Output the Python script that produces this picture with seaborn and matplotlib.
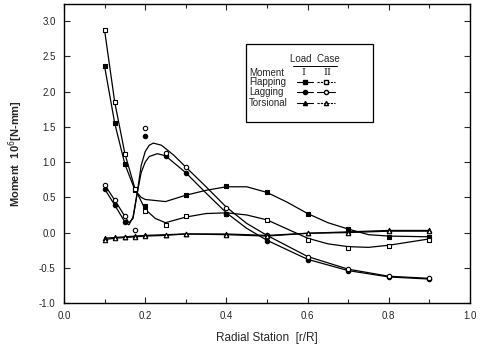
import matplotlib
matplotlib.use("Agg")
import matplotlib.pyplot as plt
import seaborn as sns
import pandas as pd
import numpy as np
from matplotlib.patches import Rectangle
from matplotlib.lines import Line2D

# ---- data ----
# Flapping moment, load case I (filled squares) and II (open squares)
flap1_r = [0.1, 0.125, 0.15, 0.175, 0.2, 0.3, 0.4, 0.5, 0.6, 0.7, 0.8, 0.9]
flap1_v = [2.36, 1.55, 0.97, 0.60, 0.38, 0.54, 0.66, 0.57, 0.27, 0.05, -0.06, -0.07]
flap2_r = [0.1, 0.125, 0.15, 0.175, 0.2, 0.25, 0.3, 0.4, 0.5, 0.6, 0.7, 0.8, 0.9]
flap2_v = [2.87, 1.85, 1.12, 0.62, 0.31, 0.11, 0.23, 0.27, 0.18, -0.10, -0.22, -0.19, -0.10]
# fitted curves
flap1_cr = [0.1, 0.125, 0.15, 0.175, 0.19, 0.2, 0.25, 0.3, 0.35, 0.4, 0.45, 0.5, 0.55, 0.6, 0.65, 0.7, 0.75, 0.8, 0.9]
flap1_cv = [2.36, 1.55, 0.97, 0.60, 0.50, 0.47, 0.44, 0.53, 0.60, 0.65, 0.65, 0.57, 0.43, 0.27, 0.14, 0.05, -0.03, -0.05, -0.06]
flap2_cr = [0.1, 0.125, 0.15, 0.175, 0.2, 0.225, 0.25, 0.3, 0.35, 0.4, 0.45, 0.5, 0.55, 0.6, 0.65, 0.7, 0.75, 0.8, 0.9]
flap2_cv = [2.87, 1.85, 1.12, 0.62, 0.33, 0.20, 0.14, 0.22, 0.27, 0.28, 0.25, 0.18, 0.05, -0.08, -0.16, -0.20, -0.21, -0.18, -0.09]

# Lagging moment, load case I (filled circles) and II (open circles)
lag1_r = [0.1, 0.125, 0.15, 0.2, 0.25, 0.3, 0.4, 0.5, 0.6, 0.7, 0.8, 0.9]
lag1_v = [0.62, 0.39, 0.15, 1.37, 1.08, 0.85, 0.27, -0.12, -0.39, -0.54, -0.63, -0.66]
lag2_r = [0.1, 0.125, 0.15, 0.2, 0.25, 0.3, 0.4, 0.5, 0.6, 0.7, 0.8, 0.9]
lag2_v = [0.68, 0.46, 0.23, 1.48, 1.13, 0.93, 0.35, -0.04, -0.34, -0.52, -0.62, -0.65]
lag1_cr = [0.1, 0.125, 0.15, 0.16, 0.17, 0.18, 0.19, 0.2, 0.21, 0.23, 0.25, 0.3, 0.35, 0.4, 0.45, 0.5, 0.6, 0.7, 0.8, 0.9]
lag1_cv = [0.62, 0.39, 0.15, 0.11, 0.22, 0.55, 0.85, 1.00, 1.08, 1.12, 1.09, 0.85, 0.56, 0.28, 0.06, -0.11, -0.38, -0.54, -0.63, -0.66]
lag2_cr = [0.1, 0.125, 0.15, 0.16, 0.17, 0.18, 0.19, 0.2, 0.21, 0.22, 0.24, 0.27, 0.3, 0.35, 0.4, 0.45, 0.5, 0.6, 0.7, 0.8, 0.9]
lag2_cv = [0.68, 0.46, 0.23, 0.14, 0.20, 0.55, 0.95, 1.15, 1.24, 1.27, 1.24, 1.10, 0.93, 0.65, 0.36, 0.13, -0.04, -0.34, -0.52, -0.62, -0.65]

# Torsional moment, load case I (filled triangles) and II (open triangles)
tors_r = [0.1, 0.125, 0.15, 0.175, 0.2, 0.25, 0.3, 0.4, 0.5, 0.6, 0.7, 0.8, 0.9]
tors1_v = [-0.08, -0.07, -0.06, -0.05, -0.04, -0.03, -0.02, -0.02, -0.04, -0.01, 0.01, 0.03, 0.03]
tors2_v = [-0.10, -0.08, -0.07, -0.06, -0.05, -0.04, -0.02, -0.03, -0.05, -0.01, 0.00, 0.02, 0.02]
tors2_extra_r = [0.175]
tors2_extra_v = [0.04]

x_ticks = [0.0, 0.2, 0.4, 0.6, 0.8, 1.0]
y_ticks = [-1.0, -0.5, 0.0, 0.5, 1.0, 1.5, 2.0, 2.5, 3.0]

# ---- plotting ----
sns.set_style("ticks")
plt.rcParams['font.family'] = ['Liberation Sans', 'DejaVu Sans']

fig = plt.figure(figsize=(4.83, 3.5), dpi=100)
ax = fig.add_axes([64/483, 47/350, 406/483, 299/350])

lw = 0.9
ms = 10
for cr, cv in [(flap1_cr, flap1_cv), (flap2_cr, flap2_cv),
               (lag1_cr, lag1_cv), (lag2_cr, lag2_cv)]:
    sns.lineplot(x=cr, y=cv, ax=ax, color="black", lw=lw, sort=False)
sns.lineplot(x=tors_r, y=tors1_v, ax=ax, color="black", lw=lw)
sns.lineplot(x=tors_r, y=tors2_v, ax=ax, color="black", lw=lw)

def pts(r, v, marker, filled, size=ms):
    sns.scatterplot(x=r, y=v, ax=ax, marker=marker, s=size,
                    facecolor="black" if filled else "white",
                    edgecolor="black", linewidth=0.8, zorder=5)

pts(flap1_r, flap1_v, "s", True, 8)
pts(flap2_r, flap2_v, "s", False, 8)
pts(lag1_r, lag1_v, "o", True)
pts(lag2_r, lag2_v, "o", False)
pts(tors_r, tors1_v, "^", True)
pts(tors_r, tors2_v, "^", False)
pts(tors2_extra_r, tors2_extra_v, "o", False)

ax.set_xlim(0.0, 1.0)
ax.set_ylim(-1.0, 3.245)
ax.set_xticks(x_ticks)
ax.set_xticklabels([f"{t:.1f}" for t in x_ticks])
ax.set_xticks(np.arange(0.1, 1.0, 0.2), minor=True)
ax.set_yticks(y_ticks)
ax.set_yticklabels([f"{t:.1f}" for t in y_ticks])
ax.tick_params(axis="both", which="both", direction="in", top=True, right=True,
               labelsize=7, width=0.8, pad=6)
ax.tick_params(which="major", length=4)
ax.tick_params(which="minor", length=3)
for s in ax.spines.values():
    s.set_linewidth(1.0)
    s.set_color("black")

ax.set_xlabel("Radial Station  [r/R]", fontsize=8.5, labelpad=8)
ax.set_ylabel("Moment  10$^6$[N-mm]", fontsize=8, fontweight="bold", labelpad=10)

# ---- legend box ----
T = ax.transAxes
ax.add_patch(Rectangle((0.448, 0.605), 0.312, 0.261, transform=T, fill=True,
                       facecolor="white", edgecolor="black", lw=0.9, zorder=6))
fs = 7
ax.text(0.618, 0.815, "Load  Case", transform=T, ha="center", va="center",
        fontsize=fs, zorder=7)
ax.add_line(Line2D([0.565, 0.672], [0.793, 0.793], transform=T, color="black",
                   lw=0.7, zorder=7))
ax.text(0.456, 0.770, "Moment", transform=T, ha="left", va="center", fontsize=fs, zorder=7)
ax.text(0.589, 0.770, "I", transform=T, ha="center", va="center", fontsize=fs,
        family="DejaVu Serif", zorder=7)
ax.text(0.650, 0.770, "II", transform=T, ha="center", va="center", fontsize=fs,
        family="DejaVu Serif", zorder=7)
rows = [("Flapping", 0.738, "s", "--"), ("Lagging", 0.705, "o", "-"),
        ("Torsional", 0.670, "^", "--")]
for name, yy, mk, ls2 in rows:
    ax.text(0.456, yy, name, transform=T, ha="left", va="center", fontsize=fs, zorder=7)
    ax.add_line(Line2D([0.575, 0.613], [yy, yy], transform=T, color="black", lw=0.8,
                       zorder=7))
    ax.add_line(Line2D([0.594], [yy], transform=T, marker=mk, ms=3, color="black",
                       mfc="black", zorder=8))
    ax.add_line(Line2D([0.622, 0.667], [yy, yy], transform=T, color="black", lw=0.8,
                       ls=ls2, dashes=(2, 1) if ls2 == "--" else (None, None), zorder=7))
    ax.add_line(Line2D([0.645], [yy], transform=T, marker=mk, ms=3, color="black",
                       mfc="white", zorder=8))

fig.savefig("out.png", dpi=100)
